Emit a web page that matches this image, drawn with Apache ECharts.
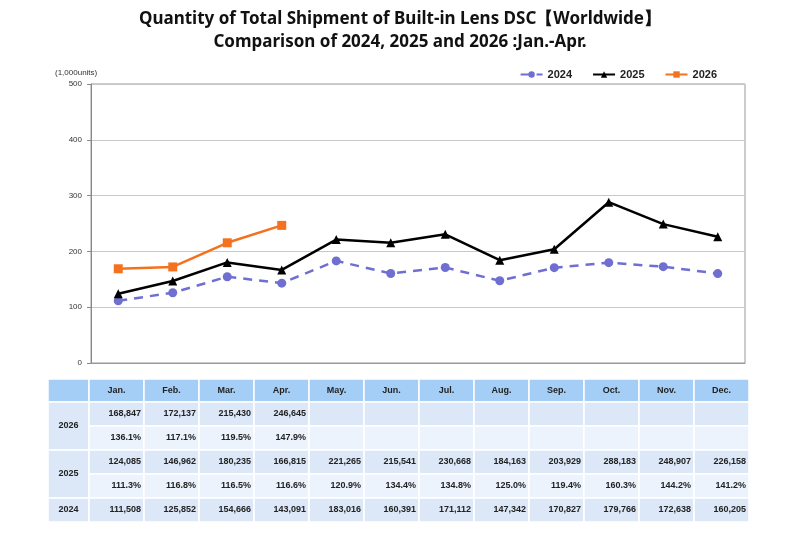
<!DOCTYPE html>
<html style="height: 100%;width:100%">
<head>
<meta charset="utf-8">
</head>
<body style="height: 100%; width:100%; margin:0">
<div id="chart-panel" style="width:800px;height:535px"></div>
<script type="text/javascript" src="https://cdn.jsdelivr.net/npm/echarts@6/dist/echarts.min.js"></script>
<script type="text/javascript">
// data (units)
var months = ['Jan.', 'Feb.', 'Mar.', 'Apr.', 'May.', 'Jun.', 'Jul.', 'Aug.', 'Sep.', 'Oct.', 'Nov.', 'Dec.'];
var years = ['2024', '2025', '2026'];
var ship2024 = [111508, 125852, 154666, 143091, 183016, 160391, 171112, 147342, 170827, 179766, 172638, 160205];
var ship2025 = [124085, 146962, 180235, 166815, 221265, 215541, 230668, 184163, 203929, 288183, 248907, 226158];
var ship2026 = [168847, 172137, 215430, 246645];
var ratio2025 = ['111.3%', '116.8%', '116.5%', '116.6%', '120.9%', '134.4%', '134.8%', '125.0%', '119.4%', '160.3%', '144.2%', '141.2%'];
var ratio2026 = ['136.1%', '117.1%', '119.5%', '147.9%'];
var yTicks = [0, 100, 200, 300, 400, 500];

var dom = document.getElementById('chart-panel');
var myChart = echarts.init(dom);

function toK(arr) {
    return arr.map(function (v) { return v / 1000; });
}
function fmt(v) {
    return v.toString().replace(/\B(?=(\d{3})+(?!\d))/g, ',');
}

// table below the chart
var tblLeft = 48, firstW = 41, colW = 55, tblTop = 379, headH = 23, rowH = 24;
var headColor = '#a4cef6', rowA = '#dce8f8', rowB = '#edf3fc';
var tableFont = 'bold 9px "Liberation Sans", Arial, sans-serif';
var graphics = [];

function cell(x, y, w, h, fill) {
    graphics.push({
        type: 'rect', silent: true,
        shape: { x: x, y: y, width: w, height: h },
        style: { fill: fill, stroke: '#fff', lineWidth: 1.5 }
    });
}
function txt(s, x, y, align) {
    graphics.push({
        type: 'text', silent: true, x: x, y: y,
        style: { text: s, font: tableFont, fill: '#222', align: align, verticalAlign: 'middle' }
    });
}

// header
cell(tblLeft, tblTop, firstW, headH, headColor);
for (var i = 0; i < months.length; i++) {
    var cx = tblLeft + firstW + i * colW;
    cell(cx, tblTop, colW, headH, headColor);
    txt(months[i], cx + colW / 2, tblTop + headH / 2, 'center');
}

var rows = [
    { year: '2026', vals: ship2026, ratios: ratio2026 },
    { year: '2025', vals: ship2025, ratios: ratio2025 },
    { year: '2024', vals: ship2024, ratios: null }
];
var y0 = tblTop + headH;
rows.forEach(function (r) {
    var nRows = r.ratios ? 2 : 1;
    cell(tblLeft, y0, firstW, rowH * nRows, rowA);
    txt(r.year, tblLeft + firstW / 2, y0 + rowH * nRows / 2, 'center');
    for (var i = 0; i < months.length; i++) {
        var cx = tblLeft + firstW + i * colW;
        cell(cx, y0, colW, rowH, rowA);
        if (r.vals[i] !== undefined) txt(fmt(r.vals[i]), cx + colW - 3, y0 + rowH / 2, 'right');
        if (r.ratios) {
            cell(cx, y0 + rowH, colW, rowH, rowB);
            if (r.ratios[i] !== undefined) txt(r.ratios[i], cx + colW - 3, y0 + rowH * 1.5, 'right');
        }
    }
    y0 += rowH * nRows;
});

graphics.push({
    type: 'text', silent: true, x: 55, y: 73,
    style: { text: '(1,000units)', font: '8px "Liberation Sans", Arial, sans-serif', fill: '#333', verticalAlign: 'middle' }
});

var option = {
    backgroundColor: '#fff',
    animation: false,
    title: {
        text: 'Quantity of Total Shipment of Built-in Lens DSC\u3010Worldwide\u3011\nComparison of 2024, 2025 and 2026 :Jan.-Apr.',
        left: 'center',
        top: 3,
        textStyle: {
            fontFamily: '"Noto Sans", sans-serif',
            fontWeight: 'bold',
            fontSize: 17,
            lineHeight: 23,
            color: '#111'
        }
    },
    legend: {
        right: 78,
        top: 64,
        itemWidth: 22,
        itemHeight: 8,
        itemGap: 20,
        textStyle: { fontSize: 11, fontWeight: 'bold', color: '#222', fontFamily: '"Liberation Sans", Arial, sans-serif' },
        data: years
    },
    grid: {
        left: 91, right: 55, top: 84, bottom: 172,
        show: true, borderColor: '#999', borderWidth: 1
    },
    xAxis: {
        type: 'category',
        data: months,
        axisLabel: { show: false },
        axisTick: { show: false },
        axisLine: { lineStyle: { color: '#999' } }
    },
    yAxis: {
        type: 'value',
        min: yTicks[0],
        max: yTicks[yTicks.length - 1],
        interval: 100,
        axisLine: { show: true, lineStyle: { color: '#888' } },
        axisTick: { show: true, length: 4, lineStyle: { color: '#888' } },
        axisLabel: { fontSize: 8, color: '#333', margin: 9 },
        splitLine: { lineStyle: { color: '#c8c8c8' } }
    },
    series: [
        {
            name: '2024', type: 'line', data: toK(ship2024),
            symbol: 'circle', symbolSize: 9,
            lineStyle: { color: '#6f6fd2', width: 2.5, type: [9, 7] },
            itemStyle: { color: '#6f6fd2' }
        },
        {
            name: '2025', type: 'line', data: toK(ship2025),
            symbol: 'triangle', symbolSize: 9,
            lineStyle: { color: '#000', width: 2.5 },
            itemStyle: { color: '#000' }
        },
        {
            name: '2026', type: 'line', data: toK(ship2026),
            symbol: 'rect', symbolSize: 9,
            lineStyle: { color: '#f47120', width: 2.5 },
            itemStyle: { color: '#f47120' }
        }
    ],
    graphic: graphics
};
myChart.setOption(option);
</script>
</body>
</html>
